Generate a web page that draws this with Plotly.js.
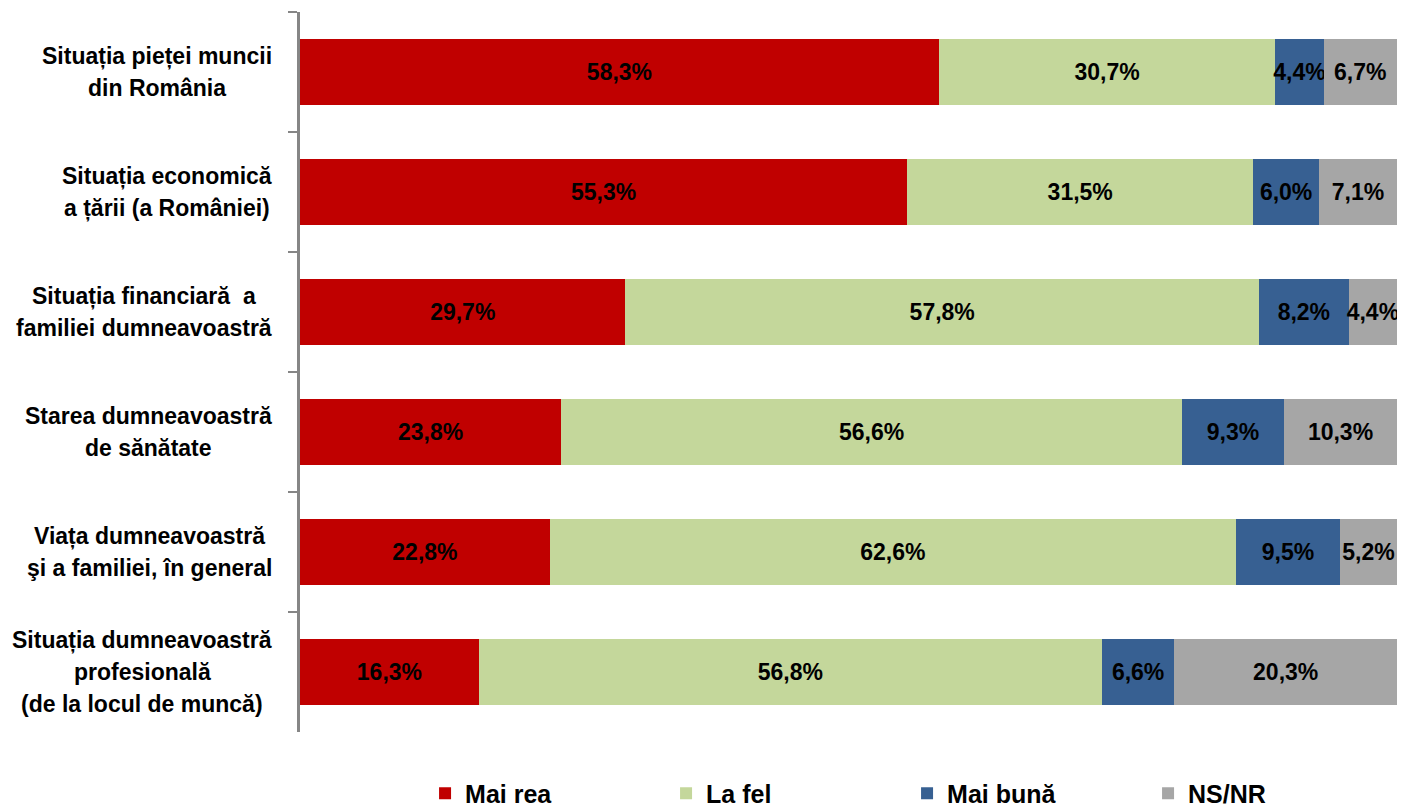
<!DOCTYPE html>
<html>
<head>
<meta charset="utf-8">
<script src="https://cdn.plot.ly/plotly-3.0.1.min.js"></script>
<style>html,body{margin:0;padding:0;background:#fff;}#chart{width:1407px;height:807px;}</style>
</head>
<body>
<div id="chart"></div>
<script>
const categories = [
  "Situația pieței muncii<br>din România",
  "Situația economică<br>a țării (a României)",
  "Situația financiară  a<br>familiei dumneavoastră",
  "Starea dumneavoastră<br>de sănătate",
  "Viața dumneavoastră<br>şi a familiei, în general",
  "Situația dumneavoastră<br>profesională<br>(de la locul de muncă)"
];
const seriesNames = ["Mai rea", "La fel", "Mai bună", "NS/NR"];
const maiRea  = [58.3, 55.3, 29.7, 23.8, 22.8, 16.3];
const laFel   = [30.7, 31.5, 57.8, 56.6, 62.6, 56.8];
const maiBuna = [4.4, 6.0, 8.2, 9.3, 9.5, 6.6];
const nsNr    = [6.7, 7.1, 4.4, 10.3, 5.2, 20.3];
const colors  = ["#C00000", "#C4D79B", "#376092", "#A6A6A6"];

const FONT = "Liberation Sans, Arial, sans-serif";
const fmt = v => v.toFixed(1).replace('.', ',') + '%';

const series = [maiRea, laFel, maiBuna, nsNr];
const traces = series.map((vals, k) => ({
  type: 'bar',
  orientation: 'h',
  name: seriesNames[k],
  y: categories,
  x: vals,
  text: vals.map(fmt),
  textposition: 'inside',
  insidetextanchor: 'middle',
  textangle: 0,
  constraintext: 'none',
  textfont: {family: FONT, size: 23, color: '#000', weight: 700},
  marker: {color: colors[k], line: {width: 0}},
  hoverinfo: 'skip'
}));

// category labels: centered block, right edge at fixed pixel
const W = 1407, ML = 300, MR = 10, plotW = W - ML - MR;
const labelFontSize = 23;
const ctx = document.createElement('canvas').getContext('2d');
ctx.font = "bold " + labelFontSize + "px 'Liberation Sans'";
const rightEdgePx = 272;
const lineStep = 32;
const annotations = [];
categories.forEach((cat, i) => {
  const lines = cat.split('<br>');
  const maxW = Math.max(...lines.map(l => ctx.measureText(l).width));
  const centerPx = rightEdgePx - maxW / 2;
  const xPaper = (centerPx - ML) / plotW;
  lines.forEach((ln, j) => {
    annotations.push({
      xref: 'paper', yref: 'y', x: xPaper, y: i,
      xanchor: 'center', yanchor: 'middle',
      yshift: -(j - (lines.length - 1) / 2) * lineStep,
      text: ln, showarrow: false,
      font: {family: FONT, size: labelFontSize, color: '#000', weight: 700}
    });
  });
});

const layout = {
  width: 1407, height: 807,
  margin: {l: ML, r: MR, t: 12, b: 75, pad: 0, autoexpand: false},
  barmode: 'stack',
  barnorm: 'percent',
  bargap: 0.45,
  paper_bgcolor: '#fff', plot_bgcolor: '#fff',
  showlegend: true,
  xaxis: {range: [0, 100], visible: false, fixedrange: true},
  yaxis: {
    type: 'category', autorange: 'reversed',
    showticklabels: false, tickson: 'boundaries',
    ticks: 'outside', ticklen: 9, tickwidth: 2, tickcolor: '#868686',
    showline: true, linecolor: '#868686', linewidth: 3,
    showgrid: false, zeroline: false, fixedrange: true
  },
  legend: {
    orientation: 'h', x: 0.114, xanchor: 'left', y: -0.0535, yanchor: 'top',
    entrywidth: 196, entrywidthmode: 'pixels', traceorder: 'normal',
    font: {family: FONT, size: 25, color: '#000', weight: 700},
    itemclick: false, itemdoubleclick: false
  },
  annotations: annotations
};

Plotly.newPlot('chart', traces, layout, {displayModeBar: false, staticPlot: true});
</script>
</body>
</html>
